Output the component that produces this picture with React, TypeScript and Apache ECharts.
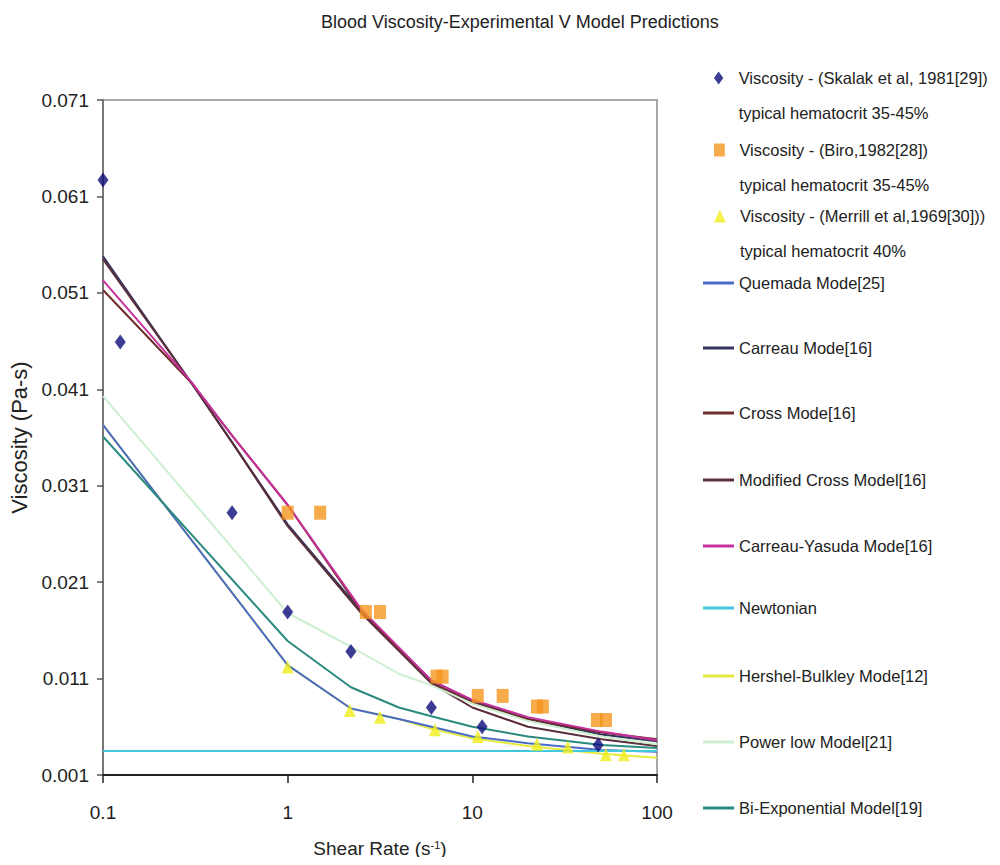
import React, { useEffect, useRef } from "react";
import * as echarts from "echarts";

// ---------- Data ----------
const skalakShear = [0.1, 0.124, 0.5, 1.0, 2.2, 6.0, 11.3, 48];
const skalakVisc = [0.0627, 0.0459, 0.0282, 0.0179, 0.0138, 0.008, 0.006, 0.0041];

const biroShear = [1.0, 1.5, 2.65, 3.16, 6.4, 6.9, 10.7, 14.6, 22.4, 24.1, 47.3, 52.9];
const biroVisc = [0.0282, 0.0282, 0.0179, 0.0179, 0.0112, 0.0112, 0.0092, 0.0092, 0.0081, 0.0081, 0.0067, 0.0067];

const merrillShear = [1.0, 2.17, 3.16, 6.27, 10.7, 22.4, 32.9, 52.9, 66.2];
const merrillVisc = [0.0122, 0.0077, 0.007, 0.0057, 0.005, 0.0042, 0.0039, 0.0031, 0.0031];

// top group of models
const topShear = [0.1, 0.3, 0.5, 1, 2.5, 6, 10, 20, 50, 100];
const carreau = [0.0548, 0.0417, 0.0355, 0.027, 0.018, 0.0108, 0.0087, 0.0068, 0.0052, 0.0045];
const cross = [0.0513, 0.0417, 0.0362, 0.029, 0.018, 0.0106, 0.0085, 0.0068, 0.0054, 0.0047];
const modifiedCross = [0.0545, 0.0417, 0.0355, 0.0268, 0.0178, 0.0105, 0.008, 0.006, 0.0047, 0.004];
const carreauYasuda = [0.0523, 0.0418, 0.0362, 0.029, 0.0182, 0.0108, 0.0088, 0.007, 0.0055, 0.0046];

// lower group of models
const lowShear = [0.1, 1, 2.2, 4, 6, 10, 20, 50, 100];
const quemada = [0.0373, 0.0124, 0.0079, 0.0068, 0.006, 0.005, 0.0043, 0.0036, 0.0034];
const hershelBulkley = [0.0373, 0.0124, 0.0079, 0.0068, 0.0058, 0.0048, 0.004, 0.0032, 0.0028];
const powerLow = [0.0403, 0.0178, 0.0143, 0.0115, 0.0103, 0.0084, 0.0066, 0.005, 0.0042];
const biExponential = [0.0361, 0.0149, 0.0101, 0.008, 0.0071, 0.006, 0.005, 0.0041, 0.0038];

const newtonianShear = [0.1, 100];
const newtonian = [0.0035, 0.0035];

const xTicks = [0.1, 1, 10, 100];

const names = {
  skalak: "Viscosity - (Skalak et al, 1981[29])\ntypical hematocrit 35-45%",
  biro: "Viscosity - (Biro,1982[28])\ntypical hematocrit 35-45%",
  merrill: "Viscosity - (Merrill et al,1969[30]))\ntypical hematocrit 40%",
  quemada: "Quemada Mode[25]",
  carreau: "Carreau Mode[16]",
  cross: "Cross Mode[16]",
  modCross: "Modified Cross Model[16]",
  cy: "Carreau-Yasuda Mode[16]",
  newtonian: "Newtonian",
  hb: "Hershel-Bulkley Mode[12]",
  power: "Power low Model[21]",
  biexp: "Bi-Exponential Model[19]",
};

const FONT = "'Liberation Sans', Arial, sans-serif";
const TXT = "#222";

const pair = (xs: number[], ys: number[]) => xs.map((x, i) => [x, ys[i]]);

export default function App() {
  const ref = useRef<HTMLDivElement>(null);

  useEffect(() => {
    if (!ref.current) return;
    const chart = echarts.init(ref.current, null, { renderer: "svg" });

    const lineSeries = (name: string, xs: number[], ys: number[], color: string, z = 2) => ({
      name,
      type: "line",
      data: pair(xs, ys),
      symbol: "none",
      z,
      lineStyle: { color, width: 2 },
      itemStyle: { color },
    });

    const scatterLegend = (name: string, y: number, icon: string) => ({
      data: [name],
      orient: "vertical",
      left: 714,
      top: y - 52.5,
      padding: 0,
      icon,
      itemWidth: 30,
      itemHeight: 13,
      symbolKeepAspect: true,
      selectedMode: false,
      formatter: (n: string) => " \n" + n,
      textStyle: { fontFamily: FONT, fontSize: 16.5, color: TXT, lineHeight: 35 },
    });
    const lineLegend = (name: string, y: number) => ({
      data: [name],
      orient: "vertical",
      left: 703,
      top: y - 10,
      padding: 0,
      icon: "rect",
      itemWidth: 31,
      itemHeight: 3,
      selectedMode: false,
      textStyle: { fontFamily: FONT, fontSize: 16.5, color: TXT, lineHeight: 20 },
    });

    chart.setOption({
      animation: false,
      backgroundColor: "#fff",
      title: {
        text: "Blood Viscosity-Experimental V Model Predictions",
        left: 316,
        top: 8,
        textStyle: { fontFamily: FONT, fontSize: 18, fontWeight: "normal", color: TXT },
      },
      grid: { left: 103, right: 343, top: 100, bottom: 90, show: true, borderColor: "#a8a8a8", borderWidth: 2 },
      xAxis: {
        type: "log",
        logBase: 10,
        min: 0.1,
        max: 100,
        axisLine: { show: true, lineStyle: { color: "#222", width: 2 } },
        axisTick: { show: true, length: 8, lineStyle: { color: "#222", width: 1.5 } },
        minorTick: { show: false },
        splitLine: { show: false },
        axisLabel: {
          margin: 28,
          fontFamily: FONT,
          fontSize: 19,
          color: TXT,
          formatter: (v: number) => (xTicks.find((t) => Math.abs(t - v) / t < 1e-6) ?? v).toString(),
        },
        name: "Shear Rate (s{sup|-1})",
        nameLocation: "middle",
        nameGap: 64,
        nameTextStyle: {
          fontFamily: FONT,
          fontSize: 19,
          color: TXT,
          rich: { sup: { fontFamily: FONT, fontSize: 11, verticalAlign: "top", color: TXT } },
        },
      },
      yAxis: {
        type: "value",
        min: 0.001,
        max: 0.071,
        interval: 0.01,
        axisLine: { show: true, lineStyle: { color: "#777", width: 2 } },
        axisTick: { show: true, length: 6, lineStyle: { color: "#555", width: 1.5 } },
        splitLine: { show: false },
        axisLabel: {
          margin: 14,
          fontFamily: FONT,
          fontSize: 19,
          color: TXT,
          formatter: (v: number) => v.toFixed(3),
        },
        name: "Viscosity (Pa-s)",
        nameLocation: "middle",
        nameGap: 70,
        nameTextStyle: { fontFamily: FONT, fontSize: 22, color: TXT },
      },
      legend: [
        scatterLegend(names.skalak, 78, "path://M5,0L10,7L5,14L0,7Z"),
        scatterLegend(names.biro, 150, "path://M0,0H10V12H0Z"),
        scatterLegend(names.merrill, 216, "path://M5,0L10,11H0Z"),
        lineLegend(names.quemada, 283),
        lineLegend(names.carreau, 348),
        lineLegend(names.cross, 413),
        lineLegend(names.modCross, 480),
        lineLegend(names.cy, 546),
        lineLegend(names.newtonian, 608),
        lineLegend(names.hb, 676),
        lineLegend(names.power, 742),
        lineLegend(names.biexp, 808),
      ],
      series: [
        lineSeries(names.quemada, lowShear, quemada, "#4a6cc8"),
        lineSeries(names.carreau, topShear, carreau, "#34345e"),
        lineSeries(names.cross, topShear, cross, "#6e2c2c"),
        lineSeries(names.modCross, topShear, modifiedCross, "#5a2f3a"),
        lineSeries(names.cy, topShear, carreauYasuda, "#c8309c"),
        lineSeries(names.newtonian, newtonianShear, newtonian, "#40c8dc"),
        lineSeries(names.hb, lowShear, hershelBulkley, "#e6ea3c", 1),
        lineSeries(names.power, lowShear, powerLow, "#cdeed0"),
        lineSeries(names.biexp, lowShear, biExponential, "#2a8a80"),
        {
          name: names.skalak,
          type: "scatter",
          data: pair(skalakShear, skalakVisc),
          symbol: "diamond",
          symbolSize: [11, 15],
          z: 5,
          itemStyle: { color: "#0b0b7a" },
        },
        {
          name: names.biro,
          type: "scatter",
          data: pair(biroShear, biroVisc),
          symbol: "rect",
          symbolSize: [12, 14],
          z: 5,
          itemStyle: { color: "#f5961e" },
        },
        {
          name: names.merrill,
          type: "scatter",
          data: pair(merrillShear, merrillVisc),
          symbol: "triangle",
          symbolSize: [12, 13],
          z: 5,
          itemStyle: { color: "#f0ee1a" },
        },
      ],
    });

    return () => chart.dispose();
  }, []);

  return <div ref={ref} style={{ width: 1000, height: 865, margin: -8 }} />;
}
